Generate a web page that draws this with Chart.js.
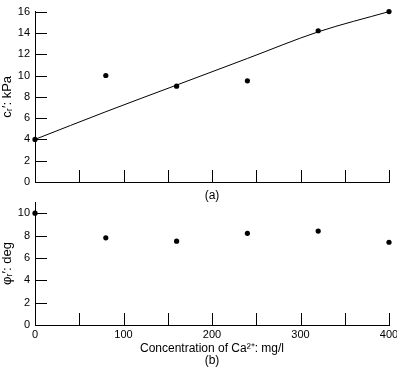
<!DOCTYPE html>
<html>
<head>
<meta charset="utf-8">
<script src="https://cdn.jsdelivr.net/npm/chart.js@4"></script>
<style>
  body { margin: 0; background: #fff; }
  #wrap { position: relative; width: 397px; height: 369px; }
  canvas { position: absolute; left: 0; }
  #chartA { top: 0; }
  #chartB { top: 190px; }
</style>
</head>
<body>
<div id="wrap">
  <canvas id="chartA" width="397" height="202"></canvas>
  <canvas id="chartB" width="397" height="179"></canvas>
</div>
<script>
// Ca2+ concentration (mg/l)
const caConc = [0, 80, 160, 240, 320, 400];
// (a) residual cohesion c_r' (kPa)
const cohesion = [4, 10, 9, 9.5, 14.2, 16];
// smooth trend line drawn through (a)
const cohesionFit = [4, 6.6, 9.1, 11.6, 14.1, 16];
// (b) residual friction angle phi_r' (deg)
const friction = [10, 7.8, 7.5, 8.2, 8.4, 7.4];
const xLabelStep = 100;
const yTicksA = [0, 2, 4, 6, 8, 10, 12, 14, 16];
const yTicksB = [0, 2, 4, 6, 8, 10];

const FONT = "'Liberation Sans', Arial, sans-serif";
const TICK_LEN = 12;

Chart.defaults.font.family = FONT;
Chart.defaults.font.size = 11;
Chart.defaults.color = '#000';

const pts = ys => caConc.map((x, i) => ({ x, y: ys[i] }));

// ticks point into the plot area, like the printed figure
const inwardTicks = {
  id: 'inwardTicks',
  beforeDatasetsDraw(chart) {
    const { ctx, chartArea } = chart;
    const xs = chart.scales.x, ys = chart.scales.y;
    ctx.save();
    ctx.strokeStyle = '#000';
    ctx.lineWidth = 1;
    ctx.beginPath();
    xs.ticks.forEach(t => {
      const px = Math.round(xs.getPixelForValue(t.value)) + 0.5;
      ctx.moveTo(px, chartArea.bottom);
      ctx.lineTo(px, chartArea.bottom - TICK_LEN);
    });
    ys.ticks.forEach(t => {
      const py = Math.round(ys.getPixelForValue(t.value)) + 0.5;
      ctx.moveTo(chartArea.left, py);
      ctx.lineTo(chartArea.left + TICK_LEN, py);
    });
    ctx.stroke();
    ctx.restore();
  }
};

function xAxis(showLabels, title, height) {
  return {
    type: 'linear',
    min: 0,
    max: 400,
    grid: { display: false, drawTicks: false },
    border: { display: true, color: '#000', width: 1 },
    ticks: {
      display: showLabels,
      stepSize: 50,
      padding: 3,
      maxRotation: 0,
      autoSkip: false,
      callback: v => (v % xLabelStep === 0 ? v : '')
    },
    title: {
      display: true,
      text: title,
      font: { size: 12, lineHeight: 1.0 },
      padding: { top: 0, bottom: showLabels ? 2 : 0 }
    },
    afterFit(s) { s.height = height; s.paddingLeft = 0; s.paddingRight = 0; }
  };
}

function yAxis(max, ticks, title) {
  return {
    type: 'linear',
    min: 0,
    max: max,
    grid: { display: false, drawTicks: false },
    border: { display: true, color: '#000', width: 1 },
    ticks: { padding: 5 },
    afterBuildTicks(s) { s.ticks = ticks.map(v => ({ value: v })); },
    title: { display: true, text: title, font: { size: 13 }, padding: 0 },
    afterFit(s) { s.width = 35; }
  };
}

const dots = ys => ({
  data: pts(ys),
  showLine: false,
  pointRadius: 2.6,
  pointBackgroundColor: '#000',
  pointBorderWidth: 0,
  clip: false
});

const common = {
  responsive: false,
  animation: false,
  events: [],
  plugins: { legend: { display: false }, tooltip: { enabled: false } }
};

new Chart(document.getElementById('chartA'), {
  type: 'scatter',
  data: {
    datasets: [
      dots(cohesion),
      {
        data: pts(cohesionFit),
        showLine: true,
        borderColor: '#000',
        borderWidth: 1,
        pointRadius: 0,
        cubicInterpolationMode: 'monotone',
        clip: false
      }
    ]
  },
  options: {
    ...common,
    layout: { padding: { top: 0, right: 8, bottom: 0, left: 0 } },
    scales: {
      x: xAxis(false, '(a)', 20),
      y: yAxis(16, yTicksA, 'cᵣ′: kPa')
    }
  },
  plugins: [inwardTicks]
});

new Chart(document.getElementById('chartB'), {
  type: 'scatter',
  data: { datasets: [dots(friction)] },
  options: {
    ...common,
    layout: { padding: { top: 12, right: 8, bottom: 0, left: 0 } },
    scales: {
      x: xAxis(true, ['Concentration of Ca²⁺: mg/l', '(b)'], 44),
      y: yAxis(11, yTicksB, 'φᵣ′: deg')
    }
  },
  plugins: [inwardTicks]
});
</script>
</body>
</html>
